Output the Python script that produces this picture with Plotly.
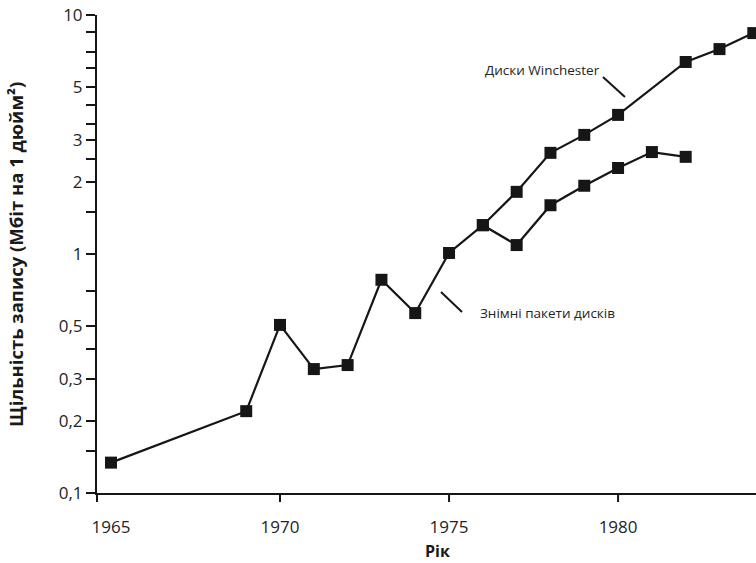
import plotly.graph_objects as go

# Recording density of disk drives, Mbit per square inch
packs_years = [1965, 1969, 1970, 1971, 1972, 1973, 1974, 1975, 1976,
               1977, 1978, 1979, 1980, 1981, 1982]
packs_density = [0.134, 0.22, 0.505, 0.33, 0.343, 0.78, 0.566, 1.01, 1.32,
                 1.09, 1.60, 1.93, 2.29, 2.67, 2.55]

win_years = [1976, 1977, 1978, 1979, 1980, 1982, 1983, 1984]
win_density = [1.32, 1.82, 2.65, 3.15, 3.82, 6.36, 7.2, 8.4]

x_ticks = [1965, 1970, 1975, 1980]
y_major = [0.1, 0.2, 0.3, 0.5, 1, 2, 3, 5, 10]
y_major_text = ["0,1", "0,2", "0,3", "0,5", "1", "2", "3", "5", "10"]
y_minor = [0.15, 0.4, 0.7, 1.5, 2.5, 3.5, 4.2, 6, 7, 8.5]

INK = "#161616"
TEXT = "#242424"
FONT = "Open Sans"

# plot area in pixels: left edge 97, top 15, height 478, width 659
fig = go.Figure()

for xs, ys in ((packs_years, packs_density), (win_years, win_density)):
    fig.add_trace(go.Scatter(
        x=xs, y=ys, mode="lines+markers",
        line=dict(color=INK, width=2.2),
        marker=dict(symbol="square", size=12, color=INK),
        cliponaxis=False, showlegend=False,
    ))

tickvals = y_major + y_minor
ticktext = y_major_text + [""] * len(y_minor)

fig.update_layout(
    width=756, height=563,
    margin=dict(l=97, r=0, t=15, b=70),
    paper_bgcolor="white", plot_bgcolor="white",
    font=dict(family=FONT, color=TEXT, size=16),
    xaxis=dict(
        range=[1964.586, 1984.08],
        tickvals=x_ticks, ticktext=[str(v) for v in x_ticks],
        ticks="", showgrid=False, zeroline=False,
        showline=True, linecolor=INK, linewidth=2,
        ticklabelstandoff=18,
        tickfont=dict(size=17, color=TEXT),
    ),
    yaxis=dict(
        type="log", range=[-1, 1],
        tickvals=tickvals, ticktext=ticktext,
        ticks="outside", ticklen=9, tickwidth=2, tickcolor=INK,
        showgrid=False, zeroline=False,
        showline=True, linecolor=INK, linewidth=2,
        tickfont=dict(size=17, color=TEXT),
    ),
)

# x-axis tick marks (the left end is marked by the crossing of the axes)
for yr in x_ticks[1:]:
    fig.add_shape(type="line", xref="x", yref="paper",
                  x0=yr, x1=yr, y0=0, y1=-9 / 478,
                  line=dict(color=INK, width=2))
fig.add_shape(type="line", xref="paper", yref="paper",
              x0=0, x1=0, y0=0, y1=-9 / 478,
              line=dict(color=INK, width=2))

# axis titles
fig.add_annotation(text="<b>Рік</b>", xref="paper", yref="paper",
                   x=0.517, y=-0.1213, xanchor="center", yanchor="middle",
                   showarrow=False, font=dict(size=16, color="#1a1a1a"))
fig.add_annotation(text="<b>Щільність запису (Мбіт на 1 дюйм²)</b>",
                   xref="paper", yref="paper", textangle=-90,
                   x=-0.1229, y=0.498, xanchor="center", yanchor="middle",
                   showarrow=False, font=dict(size=18.5, color="#1a1a1a"))

# series labels with leader lines
fig.add_annotation(text="Диски Winchester", xref="paper", yref="paper",
                   x=0.7663, y=0.885, xanchor="right", yanchor="middle",
                   showarrow=False, font=dict(size=13.5, color=TEXT))
fig.add_shape(type="line", xref="paper", yref="paper",
              x0=0.7678, y0=0.8703, x1=0.8012, y1=0.8285,
              line=dict(color=INK, width=2))

fig.add_annotation(text="Знімні пакети дисків", xref="paper", yref="paper",
                   x=0.578, y=0.3766, xanchor="left", yanchor="middle",
                   showarrow=False, font=dict(size=13.5, color=TEXT))
fig.add_shape(type="line", xref="paper", yref="paper",
              x0=0.522, y0=0.4205, x1=0.5539, y1=0.3787,
              line=dict(color=INK, width=2))

fig.write_html("out.html")
